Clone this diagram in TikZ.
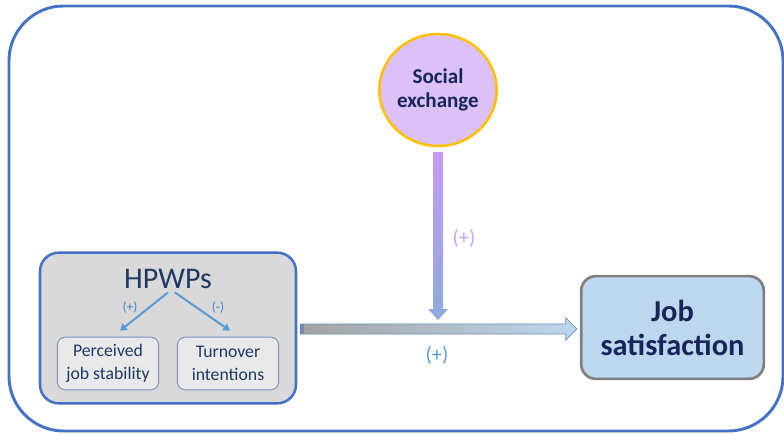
\documentclass[tikz,border=0pt]{standalone}
\usepackage{fontspec}
\setmainfont{Carlito}
\usetikzlibrary{calc,shapes.geometric,arrows.meta}
\definecolor{frameblue}{HTML}{4472C4}
\definecolor{navy}{HTML}{1F3864}
\definecolor{navyb}{HTML}{17255A}
\definecolor{hpfill}{HTML}{D9D9D9}
\definecolor{smallfill}{HTML}{E9E9E9}
\definecolor{smallborder}{HTML}{7393BA}
\definecolor{lblue}{HTML}{5B9BD5}
\definecolor{sblue}{HTML}{3F86CC}
\definecolor{purp}{HTML}{DCC1F9}
\definecolor{gold}{HTML}{FFC000}
\definecolor{vtop}{HTML}{C79CF2}
\definecolor{vmid}{HTML}{B7D0EE}
\definecolor{vbot}{HTML}{8FAADC}
\definecolor{hleft}{HTML}{A3A3A3}
\definecolor{hright}{HTML}{BDD7EE}
\definecolor{hborder}{HTML}{6D8DB5}
\definecolor{jsfill}{HTML}{BDD7EE}
\definecolor{jsborder}{HTML}{7F7F7F}
\definecolor{plabel}{HTML}{C9A3F0}
\tikzset{
  socialnode/.style={ellipse, draw=gold, line width=1.9pt, fill=purp,
    minimum width=88pt, minimum height=84pt, inner sep=0pt, align=center,
    text=navyb, font=\bfseries\fontsize{15.8}{17.5}\selectfont},
  hpbox/.style={draw=frameblue, line width=1.9pt, fill=hpfill, rounded corners=14pt,
    minimum width=192pt, minimum height=113pt, inner sep=0pt},
  smallbox/.style={draw=smallborder, line width=0.7pt, fill=smallfill, rounded corners=6pt,
    minimum width=76pt, minimum height=39.5pt, inner sep=0pt, align=center,
    text=navy, font=\fontsize{13.3}{17}\selectfont},
  jsbox/.style={draw=jsborder, line width=2pt, fill=jsfill, rounded corners=11pt,
    minimum width=137pt, minimum height=77pt, inner sep=0pt, align=center,
    text=navyb, font=\bfseries\fontsize{22.8}{25.5}\selectfont},
  sarrow/.style={draw=lblue, line width=1.5pt, -{Triangle[length=5pt,width=6pt]}},
  smalllabel/.style={text=sblue, font=\fontsize{10}{11}\selectfont, inner sep=0pt},
  biglabel/.style={font=\fontsize{15.5}{17}\selectfont, inner sep=0pt},
}
\begin{document}
\begin{tikzpicture}[x=0.75pt,y=-0.75pt]
\useasboundingbox (0,0) rectangle (784,434);
\draw[draw=frameblue, line width=2.2pt, rounded corners=41pt, fill=white] (9,6) rectangle (783,431);

% nodes
\node[socialnode] (se) at (438,90) {Social\\exchange};
\node[hpbox] (hp) at (168,328) {};
\node[anchor=base, inner sep=0pt, text=navy, font=\fontsize{22.5}{24}\selectfont] (hpt) at (168,288) {HPWPs};
\node[smallbox] (ps) at (108,363.5) {Perceived\\job stability};
\node[smallbox] (ti) at (228,363.5) {Turnover\\intentions};
\node[jsbox] (js) at (672.5,327.5) {Job\\satisfaction};

% small arrows
\draw[sarrow] ($(hpt.south)+(0,4)$) -- ($(ps.north)+(12,-6)$);
\draw[sarrow] ($(hpt.south)+(7,4)$) -- ($(ti.north)+(2,-6)$);
\node[smalllabel] (lp) at (130,308) {(+)};
\node[smalllabel] (lm) at (218,308) {(-)};

% horizontal gradient arrow
\coordinate (ha) at ($(hp.east)+(3,1)$);
\coordinate (hb) at ($(js.west |- ha)+(-3,0)$);
\path[left color=hleft, right color=hright, draw=hborder, line width=0.6pt]
  ($(ha)+(0,-5)$) -- ($(hb)+(-11,-5)$) -- ($(hb)+(-11,-11)$) -- (hb)
  -- ($(hb)+(-11,11)$) -- ($(hb)+(-11,5)$) -- ($(ha)+(0,5)$) -- cycle;
\fill[hborder] ($(ha)+(0,-5)$) rectangle ($(ha)+(4,5)$);

% vertical gradient arrow
\coordinate (va) at ($(se.south)+(0,5)$);
\coordinate (vb) at ($(se.south |- ha)+(0,-9)$);
\shade[top color=vtop, middle color=vmid, bottom color=vbot]
  ($(va)+(-5,0)$) rectangle ($(vb)+(5,-11)$);
\fill[vbot] ($(vb)+(-10,-11)$) -- ($(vb)+(10,-11)$) -- (vb) -- cycle;

% labels
\node[biglabel, text=plabel] (lv) at (464,238) {(+)};
\node[biglabel, text=lblue] (lh) at (437,355) {(+)};
\end{tikzpicture}
\end{document}
